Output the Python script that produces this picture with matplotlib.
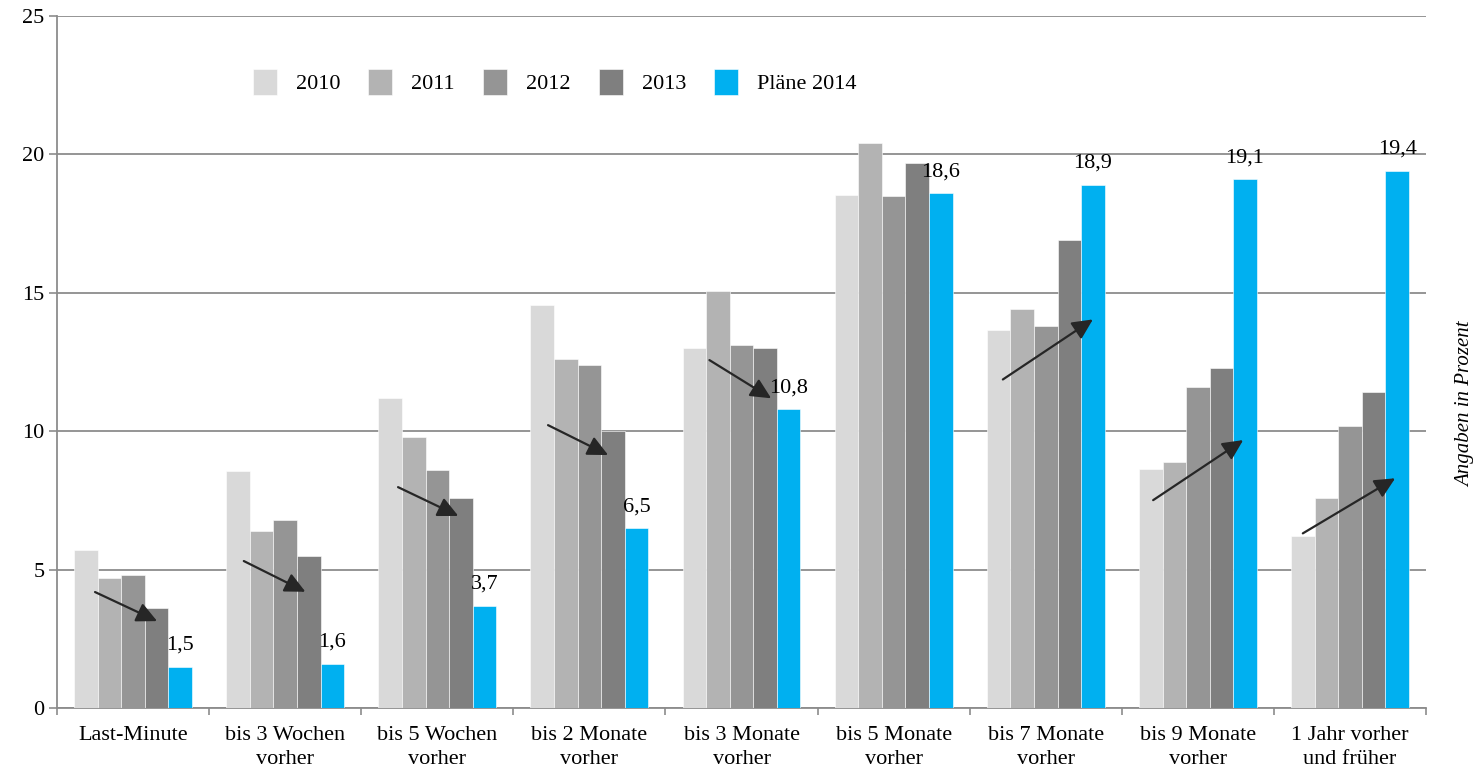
import matplotlib.pyplot as plt
import numpy as np

plt.rcParams['font.family'] = ['Liberation Serif', 'DejaVu Serif']

categories = ["Last-Minute", "bis 3 Wochen\nvorher", "bis 5 Wochen\nvorher",
              "bis 2 Monate\nvorher", "bis 3 Monate\nvorher", "bis 5 Monate\nvorher",
              "bis 7 Monate\nvorher", "bis 9 Monate\nvorher", "1 Jahr vorher\nund früher"]

years = ["2010", "2011", "2012", "2013", "Pläne 2014"]

v2010 = [5.7, 8.55, 11.2, 14.55, 13.0, 18.55, 13.65, 8.65, 6.2]
v2011 = [4.7, 6.4, 9.8, 12.6, 15.05, 20.4, 14.4, 8.9, 7.6]
v2012 = [4.8, 6.8, 8.6, 12.4, 13.1, 18.5, 13.8, 11.6, 10.2]
v2013 = [3.6, 5.5, 7.6, 10.0, 13.0, 19.7, 16.9, 12.3, 11.4]
v2014 = [1.5, 1.6, 3.7, 6.5, 10.8, 18.6, 18.9, 19.1, 19.4]

series = [v2010, v2011, v2012, v2013, v2014]
colors = ["#d9d9d9", "#b3b3b3", "#959595", "#7f7f7f", "#00b0f0"]

# trend arrows (tail x, tail y, head x, head y) in data units
arrows = [(-0.25, 4.19, 0.158, 3.14),
          (0.728, 5.31, 1.133, 4.20),
          (1.742, 7.98, 2.138, 6.94),
          (2.728, 10.22, 3.123, 9.14),
          (3.789, 12.57, 4.195, 11.19),
          (5.718, 11.87, 6.310, 14.04),
          (6.706, 7.51, 7.298, 9.68),
          (7.690, 6.31, 8.297, 8.30)]

fig = plt.figure(figsize=(14.77, 7.68), dpi=100)
ax = fig.add_axes([0.0386, 0.0781, 0.9269, 0.9010])

x = np.arange(len(categories))
w = 0.155
for i, (vals, col, name) in enumerate(zip(series, colors, years)):
    ax.bar(x + (i - 2) * w, vals, w, color=col, label=name,
           edgecolor="white", linewidth=0.4, zorder=3)

for xi, v in zip(x, v2014):
    ax.annotate(f"{v:.1f}".replace(".", ","), (xi + 2 * w, v),
                xytext=(0, 15.5), textcoords="offset points",
                ha="center", va="center", fontsize=16, zorder=5)

for x0, y0, x1, y1 in arrows:
    ax.annotate("", xy=(x1, y1), xytext=(x0, y0),
                arrowprops=dict(arrowstyle="-|>,head_length=0.62,head_width=0.3",
                                mutation_scale=20, lw=1.6, color="#262626",
                                shrinkA=0, shrinkB=0), zorder=6)

ax.set_xlim(-0.5, 8.5)
ax.set_ylim(0, 25)
ax.set_yticks(range(0, 26, 5))
ax.grid(axis="y", color="#8c8c8c", lw=1.3, zorder=0)
ax.set_xticks(x)
ax.set_xticklabels(categories, fontsize=16, linespacing=1.38)
ax.set_xticks(np.arange(-0.5, 9, 1), minor=True)
ax.tick_params(axis="x", which="major", length=0, pad=13)
ax.tick_params(axis="x", which="minor", length=5, color="#8c8c8c", width=1.2)
ax.tick_params(axis="y", length=6, color="#8c8c8c", width=1.2, labelsize=16, pad=3)

for s in ["top", "right"]:
    ax.spines[s].set_visible(False)
for s in ["left", "bottom"]:
    ax.spines[s].set_color("#8c8c8c")
    ax.spines[s].set_linewidth(1.3)

ax.legend(ncol=5, loc="center left", bbox_to_anchor=(0.143, 0.905), frameon=False,
          fontsize=16, handlelength=1.08, handleheight=1.4, handletextpad=0.85,
          columnspacing=1.27, borderaxespad=0, borderpad=0)

fig.text(0.992, 0.473, "Angaben in Prozent", rotation=90, style="italic",
         fontsize=15, ha="center", va="center")

fig.savefig("out.png", dpi=100)
